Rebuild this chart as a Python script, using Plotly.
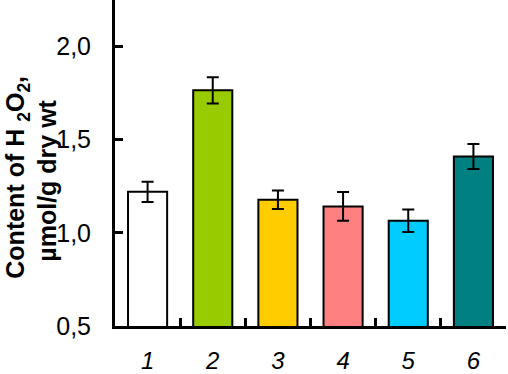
import plotly.graph_objects as go

categories = ["1", "2", "3", "4", "5", "6"]
values = [1.22, 1.765, 1.178, 1.142, 1.065, 1.41]
errors = [0.055, 0.07, 0.05, 0.077, 0.06, 0.067]
colors = ["#FFFFFF", "#99CC00", "#FFCC00", "#FF8080", "#00CCFF", "#008080"]
ytick_vals = [0.5, 1.0, 1.5, 2.0]
ytick_text = ["0,5", "1,0", "1,5", "2,0"]

fig = go.Figure()
fig.add_trace(go.Bar(
    x=categories, y=values,
    width=0.6,
    marker=dict(color=colors, line=dict(color="black", width=2)),
    error_y=dict(type="data", array=errors, visible=True,
                 color="black", thickness=2, width=6),
))

font_family = "Liberation Sans, Arial, sans-serif"
fig.update_layout(
    width=508, height=374,
    margin=dict(l=115, r=2, t=0, b=48, autoexpand=False),
    paper_bgcolor="white", plot_bgcolor="white",
    showlegend=False,
    bargap=0.4,
    font=dict(family=font_family, color="black"),
)
fig.update_xaxes(
    type="category", automargin=False,
    showline=True, linecolor="black", linewidth=3,
    ticks="inside", tickson="boundaries", ticklen=8, tickwidth=3, tickcolor="black",
    tickfont=dict(size=24, style="italic", family=font_family, color="black"),
    ticklabelstandoff=11,
    showgrid=False, zeroline=False,
)
fig.update_yaxes(
    range=[0.5, 2.25], automargin=False,
    tickvals=ytick_vals, ticktext=ytick_text,
    showline=True, linecolor="black", linewidth=3,
    ticks="inside", ticklen=8, tickwidth=3, tickcolor="black",
    tickfont=dict(size=25, family=font_family, color="black"),
    ticklabelstandoff=16,
    showgrid=False, zeroline=False,
)

def px_to_paper_x(px):
    return (px - 115) / (508 - 115 - 2)

fig.add_annotation(
    text="Content of H <sub>2</sub>O<sub>2</sub>,",
    xref="paper", yref="y", x=px_to_paper_x(17), y=1.296,
    textangle=-90, showarrow=False, xanchor="center", yanchor="middle",
    font=dict(size=25, family=font_family, color="black", weight="bold"),
)
fig.add_annotation(
    text="µmol/g dry wt",
    xref="paper", yref="y", x=px_to_paper_x(47), y=1.28,
    textangle=-90, showarrow=False, xanchor="center", yanchor="middle",
    font=dict(size=25, family=font_family, color="black", weight="bold"),
)

fig.write_html("out.html", config={"displayModeBar": False},
               post_script="document.body.style.margin='0';")
